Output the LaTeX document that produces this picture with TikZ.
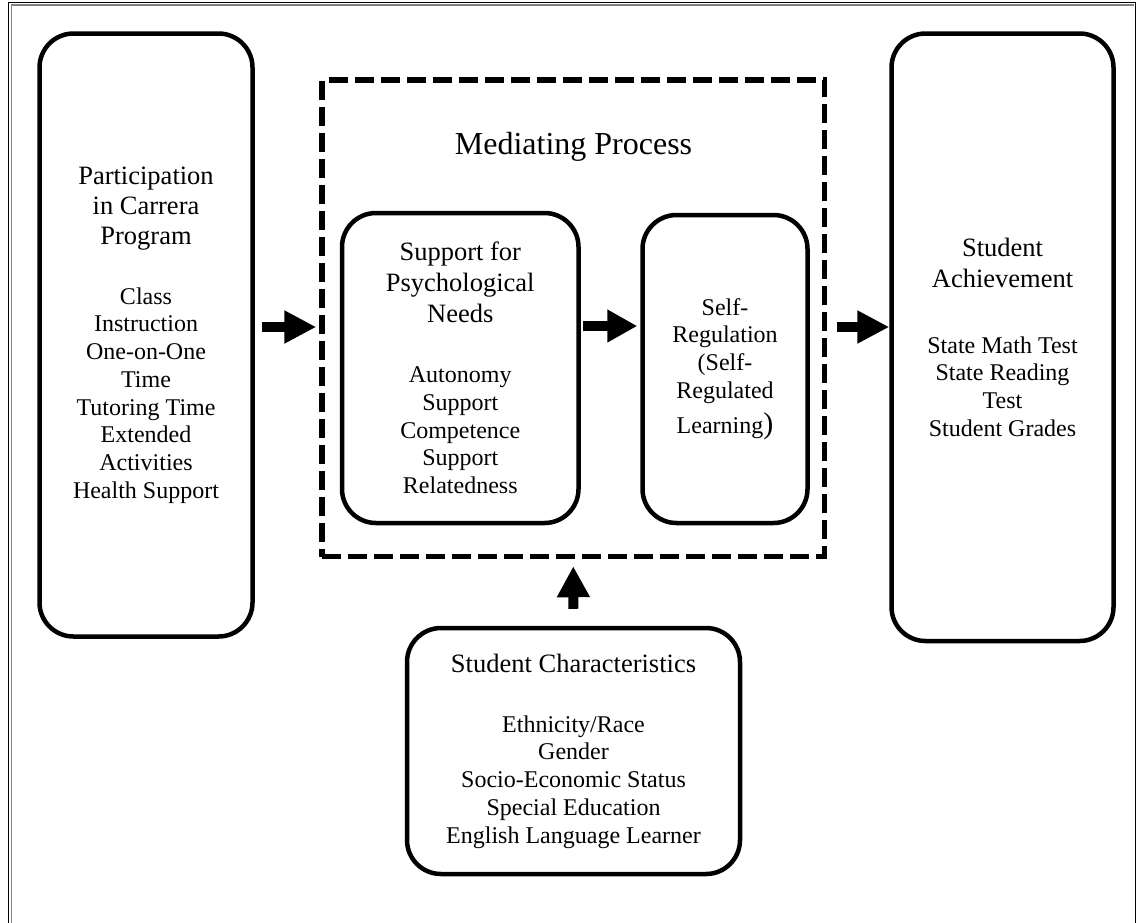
\documentclass[tikz,border=0pt]{standalone}
\usepackage{fontspec}
\setmainfont{Liberation Serif}
\usetikzlibrary{arrows.meta}
\newcommand\ttl[1]{{\fontsize{26.5}{30}\selectfont #1}}
\begin{document}
\begin{tikzpicture}[x=1pt,y=-1pt,
  box/.style={draw, line width=4.5pt, rounded corners=34pt, align=center, inner sep=0pt, font=\fontsize{24}{27.7}\selectfont},
  medbox/.style={draw, line width=5.5pt, dash pattern=on 19pt off 7pt, inner sep=0pt},
  barrow/.style={line width=10pt, -{Triangle[length=32pt,width=31pt]}},
  ]
\useasboundingbox (0,0) rectangle (1137,922);
\clip (0,0) rectangle (1137,922);
% outer frame
\draw[line width=1.2pt] (8.5,2.5) rectangle (1135.5,960);
\draw[gray, line width=1.5pt] (11.5,960) -- (11.5,5.2) -- (1133.5,5.2);

\node[box, minimum width=213pt, minimum height=603pt] (part) at (146,335)
  {\ttl{Participation}\\[2.3pt]\ttl{in Carrera}\\[2.3pt]\ttl{Program}\\[32.3pt]Class\\Instruction\\One-on-One\\Time\\Tutoring Time\\Extended\\Activities\\Health Support};

\node[box, minimum width=222pt, minimum height=607.5pt] (ach) at (1002.5,337.25)
  {\ttl{Student}\\[3.3pt]\ttl{Achievement}\\[38.3pt]State Math Test\\State Reading\\Test\\Student Grades};

\node[medbox, minimum width=502.5pt, minimum height=476.5pt] (med) at (573.25,318.25) {};
\node[font=\fontsize{32}{36}\selectfont, anchor=base] (medtitle) at (573.5,154) {Mediating Process};

\node[box, minimum width=236.5pt, minimum height=310pt] (sup) at (460.25,368)
  {\ttl{Support for}\\[3.3pt]\ttl{Psychological}\\[3.3pt]\ttl{Needs}\\[32.3pt]Autonomy\\Support\\Competence\\Support\\Relatedness};

\node[box, minimum width=165pt, minimum height=308pt] (srl) at (725,369)
  {Self-\\Regulation\\(Self-\\Regulated\\[7.3pt]Learning{\fontsize{30}{30}\selectfont )}};

\node[box, minimum width=333pt, minimum height=246pt] (sc) at (573.5,751)
  {\ttl{Student Characteristics}\\[32.3pt]Ethnicity/Race\\Gender\\Socio-Economic Status\\Special Education\\English Language Learner};

\coordinate (ay) at (0,327);
\coordinate (ay2) at (0,326);
\draw[barrow, shorten <=7pt, shorten >=3pt] (part.east |- ay) -- (med.west |- ay);
\draw[line width=10pt, -{Triangle[length=30pt,width=31pt]}, shorten <=2pt, shorten >=3pt] (sup.east |- ay2) -- (srl.west |- ay2);
\draw[barrow, shorten <=10pt] (med.east |- ay) -- (ach.west |- ay);
\draw[line width=10pt, -{Triangle[length=31pt,width=31pt]}, shorten <=17pt, shorten >=7pt] (sc.north) -- (med.south);
\end{tikzpicture}
\end{document}
